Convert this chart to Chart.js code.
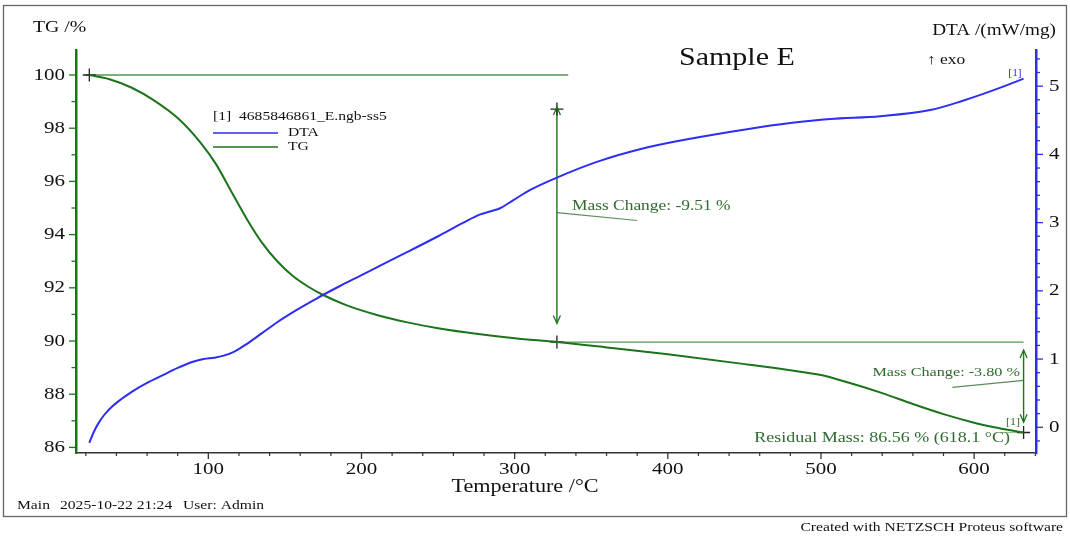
<!DOCTYPE html>
<html>
<head>
<meta charset="utf-8">
<title>Sample E - TG / DTA</title>
<script src="https://cdn.jsdelivr.net/npm/chart.js@4.4.1/dist/chart.umd.min.js"></script>
<style>
    html, body { margin: 0; padding: 0; background: #fff; }
    canvas { display: block; }
</style>
</head>
<body>
<canvas id="taChart" width="1070" height="537"></canvas>
<script>
// Axis ranges and tick labels
const TEMP_MIN = 13.6, TEMP_MAX = 640.4;
const TEMP_TICKS = [100, 200, 300, 400, 500, 600];
const TG_MIN = 85.79, TG_MAX = 100.94;
const TG_TICKS = [86, 88, 90, 92, 94, 96, 98, 100];
const DTA_MIN = -0.377, DTA_MAX = 5.53;
const DTA_TICKS = [0, 1, 2, 3, 4, 5];

// TG curve (°C, %)
const TG_TEMP = [22.3, 35, 50, 65, 80, 95, 105, 115, 125, 135, 145, 155, 165, 175, 190, 210, 230, 250, 275, 300, 327.6, 360, 400, 451.7, 480, 500, 520, 540, 560, 580, 600, 615, 632.3];
const TG_MASS = [100, 99.85, 99.52, 99.03, 98.38, 97.45, 96.65, 95.62, 94.6, 93.7, 93.0, 92.45, 92.05, 91.73, 91.35, 90.98, 90.7, 90.48, 90.27, 90.1, 89.96, 89.76, 89.5, 89.12, 88.9, 88.72, 88.4, 88.04, 87.63, 87.25, 86.93, 86.74, 86.56];

// DTA curve (°C, mW/mg)
const DTA_TEMP = [22.3, 25, 28, 32, 37, 43, 50, 60, 70, 80, 90, 97, 104, 110, 117, 125, 135, 145, 157.7, 170, 185, 200, 212.2, 230, 250, 266.6, 277.5, 285, 290.5, 299.2, 310.2, 327.6, 353.7, 386.3, 414.6, 451.7, 480, 506, 538.7, 571.4, 593.1, 615, 632.3];
const DTA_VALUE = [-0.23, -0.08, 0.05, 0.18, 0.3, 0.41, 0.52, 0.65, 0.76, 0.87, 0.96, 1.0, 1.02, 1.05, 1.11, 1.22, 1.38, 1.54, 1.72, 1.88, 2.06, 2.23, 2.37, 2.57, 2.8, 3.0, 3.12, 3.17, 3.21, 3.33, 3.48, 3.66, 3.89, 4.1, 4.23, 4.37, 4.46, 4.52, 4.56, 4.65, 4.79, 4.96, 5.11];

// Mass change evaluation (steps, arrows, residual)
const START_POINT = [22.3, 100];
const STEP_TEMP = 327.6;
const STEP_LEVEL = 89.96;
const LEVEL_100_SPAN = [20, 335];
const LEVEL_STEP_SPAN = [327.6, 632.3];
const ARROW1 = [98.72, 90.66];
const ARROW2_TEMP = 632.3;
const ARROW2 = [89.66, 86.95];
const RESIDUAL = [632.3, 86.56];
const LEADER1 = [[327.6, 94.83], [380, 94.53]];
const LEADER2 = [[585.8, 88.26], [632.3, 88.52]];

const FONT = '"Liberation Serif", "Times New Roman", serif';
const SX = 1.2;   // horizontal text stretch
const GREEN = '#1b731b';
const TEXT_GREEN = '#2f6a2f';
const BLUE = '#2d2df4';

const pts = (xs, ys) => xs.map((x, i) => ({ x: x, y: ys[i] }));

function text(ctx, str, x, y, size, color, align) {
    ctx.save();
    ctx.font = size + 'px ' + FONT;
    ctx.fillStyle = color;
    ctx.textAlign = align || 'left';
    ctx.textBaseline = 'middle';
    ctx.translate(x, y);
    ctx.scale(SX, 1);
    ctx.fillText(str, 0, 0);
    ctx.restore();
}

function line(ctx, x1, y1, x2, y2, color, width) {
    ctx.beginPath();
    ctx.moveTo(x1, y1);
    ctx.lineTo(x2, y2);
    ctx.strokeStyle = color;
    ctx.lineWidth = width;
    ctx.stroke();
}

function arrowHead(ctx, x, y, dir, color) {
    // dir = -1 points up, 1 points down
    ctx.beginPath();
    ctx.moveTo(x - 3.5, y - dir * 8);
    ctx.lineTo(x, y);
    ctx.lineTo(x + 3.5, y - dir * 8);
    ctx.strokeStyle = color;
    ctx.lineWidth = 1.3;
    ctx.stroke();
}

const overlay = {
    id: 'overlay',
    beforeDraw(chart) {
        const ctx = chart.ctx;
        ctx.save();
        ctx.fillStyle = '#fff';
        ctx.fillRect(0, 0, chart.width, chart.height);
        ctx.restore();
    },
    afterDraw(chart) {
        const ctx = chart.ctx;
        const x = chart.scales.x, tg = chart.scales.tg, dta = chart.scales.dta;
        const bottom = x.top, left = tg.right, right = dta.left;
        ctx.save();

        // tick marks
        for (let v = 20; v <= 640; v += 20) {
            const px = x.getPixelForValue(v);
            const major = TEMP_TICKS.includes(v);
            line(ctx, px, bottom, px, bottom + (major ? 6 : 3), '#333', major ? 1.3 : 1.2);
        }
        for (let v = 86; v <= 100; v++) {
            const py = tg.getPixelForValue(v);
            const major = TG_TICKS.includes(v);
            line(ctx, left, py, left - (major ? 7 : 4.5), py, GREEN, 1.3);
        }
        for (let i = -1; i <= 27; i++) {
            const v = i / 5;
            const py = dta.getPixelForValue(v);
            const major = i % 5 === 0;
            line(ctx, right, py, right + (major ? 7 : 4), py, BLUE, 1.3);
        }

        // tick labels
        TEMP_TICKS.forEach(v => text(ctx, String(v), x.getPixelForValue(v), 469, 17.5, '#111', 'center'));
        TG_TICKS.forEach(v => text(ctx, String(v), 65, tg.getPixelForValue(v), 17.5, '#111', 'right'));
        DTA_TICKS.forEach(v => text(ctx, String(v), 1049, dta.getPixelForValue(v), 17.5, '#111', 'left'));

        // axis titles
        text(ctx, 'TG /%', 33, 27.5, 16.5, '#111');
        text(ctx, 'DTA /(mW/mg)', 1056, 31, 16, '#111', 'right');
        text(ctx, 'Temperature /°C', 525, 487, 18.5, '#111', 'center');
        text(ctx, 'Sample E', 679, 58, 25, '#111');
        text(ctx, '↑ exo', 927, 60, 14.5, '#111');

        // legend
        text(ctx, '[1]  4685846861_E.ngb-ss5', 213, 117, 13, '#111');
        line(ctx, 213, 133, 278, 133, BLUE, 1.5);
        text(ctx, 'DTA', 288, 133, 13, '#111');
        line(ctx, 213, 147, 278, 147, GREEN, 1.5);
        text(ctx, 'TG', 288, 147, 13, '#111');

        // mass change arrows
        const ax1 = x.getPixelForValue(STEP_TEMP);
        arrowHead(ctx, ax1, tg.getPixelForValue(ARROW1[0]) - 2, -1, GREEN);
        arrowHead(ctx, ax1, tg.getPixelForValue(ARROW1[1]), 1, GREEN);
        const ax2 = x.getPixelForValue(ARROW2_TEMP);
        arrowHead(ctx, ax2, tg.getPixelForValue(ARROW2[0]), -1, GREEN);
        arrowHead(ctx, ax2, tg.getPixelForValue(ARROW2[1]), 1, GREEN);

        // evaluation labels
        text(ctx, 'Mass Change: -9.51 %', 572, 206, 14.5, TEXT_GREEN);
        text(ctx, 'Mass Change: -3.80 %', 1020, 372, 13.5, TEXT_GREEN, 'right');
        text(ctx, 'Residual Mass: 86.56 % (618.1 °C)', 1010, 438, 15, TEXT_GREEN, 'right');
        text(ctx, '[1]', 1015, 73, 9.5, BLUE, 'center');
        text(ctx, '[1]', 1013, 422, 10, TEXT_GREEN, 'center');

        // footer and frame
        text(ctx, 'Main', 17, 506, 13, '#111');
        text(ctx, '2025-10-22 21:24', 60, 506, 13, '#111');
        text(ctx, 'User: Admin', 183, 506, 13, '#111');
        text(ctx, 'Created with NETZSCH Proteus software', 1063, 528, 13, '#111', 'right');
        ctx.strokeStyle = '#666';
        ctx.lineWidth = 1.3;
        ctx.strokeRect(3.5, 5.5, 1063, 511);
        ctx.restore();
    }
};

const thin = (data, color, width) => ({
    data: data, yAxisID: 'tg', showLine: true, borderColor: color,
    borderWidth: width, pointRadius: 0, fill: false
});

new Chart(document.getElementById('taChart'), {
    type: 'scatter',
    data: {
        datasets: [
            {
                label: 'DTA', data: pts(DTA_TEMP, DTA_VALUE), yAxisID: 'dta', showLine: true,
                borderColor: BLUE, borderWidth: 2, pointRadius: 0, cubicInterpolationMode: 'monotone'
            },
            {
                label: 'TG', data: pts(TG_TEMP, TG_MASS), yAxisID: 'tg', showLine: true,
                borderColor: GREEN, borderWidth: 2, pointRadius: 0, cubicInterpolationMode: 'monotone'
            },
            {
                label: 'marks', yAxisID: 'tg', showLine: false,
                data: pts([START_POINT[0], STEP_TEMP, STEP_TEMP, RESIDUAL[0]], [START_POINT[1], ARROW1[0], STEP_LEVEL, RESIDUAL[1]]),
                pointStyle: 'cross', pointRadius: 6.5, borderColor: '#222', borderWidth: 1.3
            },
            thin(pts(LEVEL_100_SPAN, [100, 100]), '#4f984f', 1.3),
            thin(pts(LEVEL_STEP_SPAN, [STEP_LEVEL, STEP_LEVEL]), '#4f984f', 1.3),
            thin(pts([STEP_TEMP, STEP_TEMP], ARROW1), GREEN, 1.4),
            thin(pts([ARROW2_TEMP, ARROW2_TEMP], ARROW2), GREEN, 1.4),
            thin(pts(LEADER1.map(p => p[0]), LEADER1.map(p => p[1])), '#5d8a5d', 1.2),
            thin(pts(LEADER2.map(p => p[0]), LEADER2.map(p => p[1])), '#5d8a5d', 1.2),
            thin(pts([617, RESIDUAL[0]], [RESIDUAL[1], RESIDUAL[1]]), '#9cc49c', 1.2)
        ]
    },
    options: {
        responsive: false,
        animation: false,
        layout: { padding: { top: 50 } },
        plugins: { legend: { display: false }, tooltip: { enabled: false } },
        scales: {
            x: {
                type: 'linear', position: 'bottom', min: TEMP_MIN, max: TEMP_MAX,
                grid: { display: false, drawTicks: false },
                border: { display: true, color: '#333', width: 1.5 },
                ticks: { display: false },
                afterBuildTicks: s => { s.ticks = TEMP_TICKS.map(v => ({ value: v })); },
                afterFit: s => { s.height = 84; }
            },
            tg: {
                type: 'linear', position: 'left', min: TG_MIN, max: TG_MAX,
                grid: { display: false, drawTicks: false },
                border: { display: true, color: GREEN, width: 2.5 },
                ticks: { display: false },
                afterBuildTicks: s => { s.ticks = TG_TICKS.map(v => ({ value: v })); },
                afterFit: s => { s.width = 76; }
            },
            dta: {
                type: 'linear', position: 'right', min: DTA_MIN, max: DTA_MAX,
                grid: { display: false, drawTicks: false },
                border: { display: true, color: BLUE, width: 2.5 },
                ticks: { display: false },
                afterBuildTicks: s => { s.ticks = DTA_TICKS.map(v => ({ value: v })); },
                afterFit: s => { s.width = 34; }
            }
        }
    },
    plugins: [overlay]
});
</script>
</body>
</html>
